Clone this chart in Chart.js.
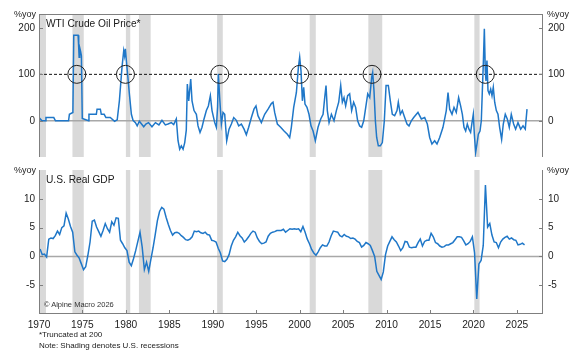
<!DOCTYPE html>
<html>
<head>
<meta charset="utf-8">
<script src="https://cdn.jsdelivr.net/npm/chart.js@4"></script>
<style>
  body { margin: 0; background: #fff; font-family: "Liberation Sans", Arial, sans-serif; }
  #wrap { position: relative; width: 583px; height: 354px; overflow: hidden; }
  canvas { position: absolute; left: 0; }
  .t { position: absolute; white-space: nowrap; color: #1a1a1a; line-height: 1; }
</style>
</head>
<body>
<div id="wrap">
  <canvas id="oil" width="583" height="168" style="top:0"></canvas>
  <canvas id="gdp" width="583" height="195" style="top:159px"></canvas>

  <div class="t" style="left:14px;top:10px;font-size:9px">%yoy</div>
  <div class="t" style="left:547px;top:10px;font-size:9px">%yoy</div>
  <div class="t" style="left:46px;top:19px;font-size:10.2px">WTI Crude Oil Price*</div>

  <div class="t" style="left:14px;top:166px;font-size:9px">%yoy</div>
  <div class="t" style="left:547px;top:166px;font-size:9px">%yoy</div>
  <div class="t" style="left:46px;top:175px;font-size:10.2px">U.S. Real GDP</div>
  <div class="t" style="left:44px;top:301px;font-size:7.5px;color:#333">© Alpine Macro 2026</div>

  <div class="t" style="left:39px;top:331px;font-size:8px">*Truncated at 200</div>
  <div class="t" style="left:39px;top:342px;font-size:8px">Note: Shading denotes U.S. recessions</div>
</div>

<script>
// ---- data ----
const yearTicks = [1970, 1975, 1980, 1985, 1990, 1995, 2000, 2005, 2010, 2015, 2020, 2025];
const oilTicks = [0, 100, 200];
const gdpTicks = [-5, 0, 5, 10];

// recessions (start / end, decimal years)
const recessionStart = [1970.0, 1973.85, 1980.0, 1981.5, 1990.5, 2001.15, 2007.9, 2020.1];
const recessionEnd   = [1970.8, 1975.15, 1980.5, 1982.85, 1991.15, 2001.85, 2009.5, 2020.7];

// WTI crude oil, %yoy (truncated at 200)
const oilYears = [
  1970.00, 1970.35, 1970.73, 1970.80, 1971.70, 1971.90, 1973.40, 1973.50, 1973.90, 1974.00,
  1974.50, 1974.57, 1974.62, 1974.68, 1974.78, 1974.88, 1974.98, 1975.70, 1975.75, 1976.60,
  1976.68, 1977.06, 1977.17, 1977.50, 1977.70, 1978.20, 1978.70, 1979.00, 1979.25, 1979.55,
  1979.75, 1979.85, 1979.94, 1980.05, 1980.20, 1980.40, 1980.63, 1980.82, 1981.10, 1981.30,
  1981.55, 1981.80, 1982.05, 1982.30, 1982.60, 1983.00, 1983.40, 1983.80, 1984.15, 1984.54,
  1984.85, 1985.23, 1985.50, 1985.80, 1986.00, 1986.19, 1986.38, 1986.58, 1986.77, 1986.95,
  1987.07, 1987.23, 1987.46, 1987.61, 1987.84, 1988.11, 1988.30, 1988.53, 1988.76, 1988.99,
  1989.26, 1989.49, 1989.72, 1989.91, 1990.22, 1990.41, 1990.55, 1990.64, 1990.79, 1990.99,
  1991.18, 1991.37, 1991.60, 1991.87, 1992.14, 1992.41, 1992.71, 1992.98, 1993.29, 1993.60,
  1993.86, 1994.13, 1994.44, 1994.74, 1994.97, 1995.20, 1995.59, 1995.97, 1996.36, 1996.74,
  1996.93, 1997.12, 1997.43, 1997.81, 1998.20, 1998.58, 1998.85, 1999.04, 1999.31, 1999.62,
  1999.85, 2000.00, 2000.15, 2000.31, 2000.46, 2000.61, 2000.84, 2001.07, 2001.30, 2001.54,
  2001.80, 2002.11, 2002.42, 2002.69, 2002.88, 2003.03, 2003.18, 2003.38, 2003.65, 2003.95,
  2004.22, 2004.49, 2004.72, 2004.91, 2005.10, 2005.29, 2005.52, 2005.75, 2005.98, 2006.21,
  2006.44, 2006.67, 2006.90, 2007.13, 2007.37, 2007.60, 2007.83, 2008.06, 2008.29, 2008.40,
  2008.55, 2008.71, 2008.86, 2009.05, 2009.28, 2009.51, 2009.74, 2009.94, 2010.20, 2010.43,
  2010.66, 2010.93, 2011.20, 2011.35, 2011.58, 2011.81, 2012.08, 2012.35, 2012.58, 2012.85,
  2013.12, 2013.43, 2013.61, 2014.00, 2014.38, 2014.69, 2014.96, 2015.22, 2015.53, 2015.80,
  2016.11, 2016.49, 2016.87, 2017.07, 2017.26, 2017.53, 2017.76, 2018.02, 2018.29, 2018.52,
  2018.72, 2018.91, 2019.10, 2019.29, 2019.48, 2019.67, 2019.83, 2019.98, 2020.10, 2020.25,
  2020.40, 2020.56, 2020.75, 2020.90, 2021.02, 2021.13, 2021.25, 2021.36, 2021.44, 2021.55,
  2021.67, 2021.82, 2021.98, 2022.13, 2022.28, 2022.44, 2022.63, 2022.82, 2023.01, 2023.24,
  2023.43, 2023.66, 2023.89, 2024.12, 2024.35, 2024.62, 2024.85, 2025.12, 2025.43, 2025.70,
  2025.96, 2026.16
];
const oilValues = [
  7, 0, 0, 7, 7, 0, 0, 14, 18, 184,
  184, 158, 137, 158, 150, 140, 5, 0, 14, 14,
  25, 25, 14, 14, 7, 7, -1, 2, 43, 115,
  151, 140, 155, 130, 100, 58, 14, 1, -4, -11,
  -1, -7, -13, -7, -4, -13, -4, -9, 1, -9,
  -7, -4, -8, 4, -43, -61, -54, -61, -47, -20,
  79, 43, 90, 43, 22, 14, -11, -25, -14, 4,
  22, 32, 54, 22, -4, -14, 30, 101, 50, -7,
  18, 14, -43, -18, -7, 7, 1, -11, -7, -18,
  -30, -14, 7, 25, 32, 11, -4, 14, 25, 37,
  40, 18, -7, -14, -22, -29, -36, -14, 29, 61,
  115, 137, 108, 43, 72, 36, 29, 14, -11, -22,
  -43, -14, 4, 14, 50, 76, 22, -4, 14, 0,
  22, 40, 76, 40, 50, 32, 54, 58, 22, 40,
  29, 0, -11, -14, 0, 29, 58, 50, 94, 104,
  65, 0, -36, -54, -54, -47, 0, 76, 76, 43,
  14, 11, 22, 40, 14, 22, 7, -7, -11, 0,
  7, 14, 18, 4, 7, -7, -36, -50, -43, -50,
  -36, -14, 22, 61, 25, 14, 29, 18, 50, 32,
  14, -14, -22, -7, -18, -25, -4, 14, -29, -68,
  -50, -29, -22, 0, 65, 122, 198, 108, 86, 130,
  65, 58, 68, 54, 72, 40, 22, 14, -14, -40,
  -7, 14, 4, -14, 14, -7, -18, -4, -18, -11,
  -18, 25
];
const oilThreshold = 100;
const circleYears = [1974.35, 1979.95, 1990.8, 2000.0, 2008.32, 2021.36];

// U.S. real GDP, %yoy, quarterly from 1970Q1
const gdpStart = 1970;
const gdpValues = [
  1.3, 0.3, 0.4, -0.1,   3.0, 3.2, 3.1, 3.6,   4.4, 3.8, 5.0, 5.3,   7.5, 6.5, 5.2, 4.2,
  0.8, 0.2, -0.3, -1.3,  -2.3, -1.8, 0.2, 2.5, 6.1, 6.3, 5.1, 4.3,   3.5, 4.5, 5.7, 4.8,
  4.2, 6.0, 5.4, 6.7,    6.6, 2.8, 2.2, 1.5,   1.0, -1.0, -1.6, -0.4, 1.0, 2.6, 4.2, 1.6,
  -2.3, -1.0, -2.6, -0.5, 1.5, 3.8, 6.2, 7.8,  8.5, 8.2, 6.8, 5.6,   4.5, 3.7, 4.1, 4.2,
  4.0, 3.6, 3.3, 2.9,    2.8, 3.0, 3.4, 4.4,   4.3, 4.4, 4.1, 4.0,   4.2, 3.8, 3.7, 2.8,
  2.7, 2.5, 1.4, 0.6,    -0.8, -0.9, -0.5, 0.3, 1.8, 2.8, 3.4, 4.2,  3.6, 3.2, 2.5, 2.9,
  3.4, 4.0, 4.4, 4.2,    3.2, 2.6, 2.2, 2.3,   2.5, 3.5, 4.0, 4.2,   4.3, 4.5, 4.5, 4.5,
  4.7, 4.2, 4.5, 4.8,    4.7, 4.8, 4.7, 4.8,   4.3, 5.2, 4.2, 3.0,   2.2, 1.2, 0.6, 0.2,
  0.8, 1.5, 2.0, 1.8,    1.8, 2.5, 3.6, 4.4,   4.3, 4.2, 3.6, 3.4,   3.8, 3.5, 3.4, 3.1,
  3.2, 3.0, 2.6, 2.4,    1.6, 1.9, 2.4, 2.2,   1.9, 1.0, 0.0, -2.6,  -3.3, -4.0, -2.7, 0.3,
  1.8, 2.6, 3.4, 2.9,    2.5, 1.8, 1.0, 1.5,   2.6, 2.5, 1.6, 1.5,   1.6, 1.6, 2.4, 3.0,
  1.8, 2.6, 2.8, 2.8,    4.0, 3.4, 2.4, 2.2,   1.8, 1.6, 1.7, 2.0,   2.0, 2.2, 2.4, 2.9,
  3.4, 3.4, 3.3, 2.7,    2.0, 2.2, 2.6, 3.4,   0.6, -7.4, -1.3, -0.7, 1.9, 12.4, 5.1, 5.7,
  3.7, 2.5, 2.4, 1.5,    2.5, 3.0, 3.3, 3.5,   3.0, 3.2, 2.9, 2.8,   2.0, 2.1, 2.3, 2.0
];

// ---- chart setup ----
Chart.defaults.font.family = "'Liberation Sans', Arial, sans-serif";
Chart.defaults.font.size = 10;
Chart.defaults.color = '#222';

const lineBlue = '#1f77c8';
const axisGray = '#7f7f7f';

// shading, zero line, axis lines and inward tick marks
const frame = {
  id: 'frame',
  beforeDatasetsDraw(chart, args, opts) {
    const { ctx, chartArea: a, scales: { x, y } } = chart;
    ctx.save();
    ctx.fillStyle = '#d9d9d9';
    recessionStart.forEach((s, i) => {
      const x0 = x.getPixelForValue(s);
      const x1 = x.getPixelForValue(recessionEnd[i]);
      ctx.fillRect(x0, a.top, x1 - x0, a.bottom - a.top);
    });
    const y0 = y.getPixelForValue(0);
    ctx.strokeStyle = '#a8a8a8';
    ctx.lineWidth = 1.5;
    ctx.beginPath(); ctx.moveTo(a.left, y0); ctx.lineTo(a.right, y0); ctx.stroke();
    if (opts.dashAt !== undefined) {
      const yd = y.getPixelForValue(opts.dashAt);
      ctx.strokeStyle = '#111';
      ctx.lineWidth = 1;
      ctx.setLineDash([3, 2]);
      ctx.beginPath(); ctx.moveTo(a.left, yd); ctx.lineTo(a.right, yd); ctx.stroke();
    }
    ctx.restore();
  },
  afterDraw(chart, args, opts) {
    const { ctx, chartArea: a, scales: { x, y } } = chart;
    ctx.save();
    ctx.strokeStyle = axisGray;
    ctx.lineWidth = 1;
    ctx.beginPath();
    ctx.moveTo(a.left + 0.5, a.top); ctx.lineTo(a.left + 0.5, a.bottom);
    ctx.moveTo(a.right - 0.5, a.top); ctx.lineTo(a.right - 0.5, a.bottom);
    if (opts.topLine) { ctx.moveTo(a.left, a.top + 0.5); ctx.lineTo(a.right, a.top + 0.5); }
    if (opts.bottomLine) {
      ctx.moveTo(a.left, a.bottom - 0.5); ctx.lineTo(a.right, a.bottom - 0.5);
      yearTicks.forEach(v => {
        const px = Math.round(x.getPixelForValue(v)) + 0.5;
        ctx.moveTo(px, a.bottom); ctx.lineTo(px, a.bottom - 4);
      });
    }
    y.ticks.forEach(t => {
      const py = Math.round(y.getPixelForValue(t.value)) + 0.5;
      ctx.moveTo(a.left, py); ctx.lineTo(a.left + 4, py);
      ctx.moveTo(a.right, py); ctx.lineTo(a.right - 4, py);
    });
    ctx.stroke();
    ctx.restore();
  }
};

function yAxes(min, max, ticks) {
  const base = pos => ({
    type: 'linear',
    position: pos,
    min, max,
    grid: { display: false, drawTicks: false },
    border: { display: false },
    ticks: { padding: pos === 'left' ? 4 : 5, color: '#222', font: { size: 10 } },
    afterBuildTicks: s => { s.ticks = ticks.map(v => ({ value: v })); },
    afterFit: s => { s.width = pos === 'left' ? 39 : 40; }
  });
  return { y: base('left'), y2: base('right') };
}

new Chart(document.getElementById('oil'), {
  type: 'line',
  data: {
    datasets: [
      {
        data: circleYears.map(v => ({ x: v, y: oilThreshold })),
        showLine: false,
        pointRadius: 9,
        pointBorderWidth: 1,
        pointBorderColor: '#222',
        pointBackgroundColor: 'rgba(0,0,0,0)',
        yAxisID: 'y'
      },
      {
        data: oilYears.map((v, i) => ({ x: v, y: oilValues[i] })),
        borderColor: lineBlue,
        borderWidth: 1.5,
        pointRadius: 0,
        tension: 0,
        yAxisID: 'y'
      }
    ]
  },
  options: {
    responsive: false,
    animation: false,
    events: [],
    // y tick labels add about 11px below the plot, so the area ends at 157
    layout: { padding: { top: 14, bottom: 0, left: 0, right: 0 } },
    plugins: { legend: { display: false }, tooltip: { enabled: false },
               frame: { topLine: true, dashAt: oilThreshold } },
    scales: {
      x: { type: 'linear', min: 1970, max: 2028, display: false },
      ...yAxes(-78, 230, oilTicks)
    }
  },
  plugins: [frame]
});

new Chart(document.getElementById('gdp'), {
  type: 'line',
  data: {
    datasets: [{
      data: gdpValues.map((v, i) => ({ x: gdpStart + i / 4 + 0.125, y: v })),
      borderColor: lineBlue,
      borderWidth: 1.5,
      pointRadius: 0,
      tension: 0,
      yAxisID: 'y'
    }]
  },
  options: {
    responsive: false,
    animation: false,
    events: [],
    layout: { padding: { top: 11, bottom: 0, left: 0, right: 0 } },
    plugins: { legend: { display: false }, tooltip: { enabled: false },
               frame: { bottomLine: true } },
    scales: {
      x: {
        type: 'linear', min: 1970, max: 2028,
        grid: { display: false, drawTicks: false },
        border: { display: false },
        ticks: { padding: 5, color: '#222', font: { size: 10.2 }, maxRotation: 0,
                 callback: v => String(v) },
        afterBuildTicks: s => { s.ticks = yearTicks.map(v => ({ value: v })); },
        afterFit: s => { s.height = 40; }
      },
      ...yAxes(-10, 15, gdpTicks)
    }
  },
  plugins: [frame]
});
</script>
</body>
</html>
